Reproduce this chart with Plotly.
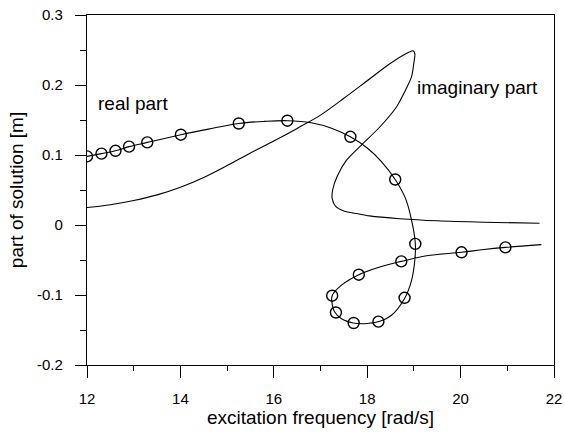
import plotly.graph_objects as go

# real part curve (analytical)
real_x = [12.0, 12.31, 12.61, 12.90, 13.29, 14.01, 14.6, 15.25, 15.8, 16.29, 16.8, 17.25,
          17.64, 18.0, 18.3, 18.6, 18.82, 18.95, 19.03, 19.02, 18.95, 18.80, 18.52, 18.25,
          17.95, 17.70, 17.45, 17.30, 17.25, 17.25, 17.45, 17.82, 18.27, 18.73, 19.27,
          20.02, 20.5, 20.96, 21.73]
real_y = [0.098, 0.102, 0.106, 0.112, 0.118, 0.129, 0.137, 0.145, 0.148, 0.149, 0.146, 0.138,
          0.126, 0.110, 0.091, 0.065, 0.038, 0.007, -0.026, -0.050, -0.079, -0.105, -0.129, -0.138,
          -0.141, -0.140, -0.134, -0.124, -0.113, -0.101, -0.086, -0.071, -0.060, -0.052, -0.044,
          -0.039, -0.035, -0.032, -0.028]

# real part markers (simulation points)
mark_x = [12.0, 12.31, 12.61, 12.90, 13.29, 14.01, 15.25, 16.29, 17.64, 18.60,
          19.03, 18.80, 18.24, 17.71, 17.33, 17.25, 17.82, 18.73, 20.02, 20.96]
mark_y = [0.098, 0.102, 0.106, 0.112, 0.118, 0.129, 0.145, 0.149, 0.126, 0.065,
          -0.027, -0.104, -0.138, -0.140, -0.125, -0.101, -0.071, -0.052, -0.039, -0.032]

# imaginary part curve
imag_x = [12.0, 12.5, 13.0, 13.5, 14.0, 14.5, 15.0, 15.5, 16.0, 16.5, 17.0, 17.5, 18.0,
          18.5, 18.9, 18.98, 19.02, 19.0, 18.95, 18.80, 18.63, 18.27, 17.84, 17.55, 17.36,
          17.26, 17.25, 17.32, 17.5, 17.8, 18.05, 18.7, 19.5, 20.5, 21.69]
imag_y = [0.025, 0.029, 0.035, 0.043, 0.054, 0.068, 0.085, 0.103, 0.120, 0.138, 0.157, 0.181,
          0.206, 0.231, 0.247, 0.249, 0.245, 0.232, 0.212, 0.190, 0.169, 0.140, 0.112, 0.092,
          0.070, 0.050, 0.038, 0.027, 0.020, 0.016, 0.013, 0.009, 0.006, 0.004, 0.0025]

x_ticks = [12, 14, 16, 18, 20, 22]
y_ticks = [-0.2, -0.1, 0, 0.1, 0.2, 0.3]
y_tick_text = ["-0.2", "-0.1", "0", "0.1", "0.2", "0.3"]

FONT = "Arial, Liberation Sans, sans-serif"

fig = go.Figure()
fig.add_trace(go.Scatter(x=real_x, y=real_y, mode="lines",
                         line=dict(color="black", width=1.1, shape="spline", smoothing=1.0),
                         showlegend=False, hoverinfo="skip"))
fig.add_trace(go.Scatter(x=imag_x, y=imag_y, mode="lines",
                         line=dict(color="black", width=1.1, shape="spline", smoothing=0.8),
                         showlegend=False, hoverinfo="skip"))
fig.add_trace(go.Scatter(x=mark_x, y=mark_y, mode="markers",
                         marker=dict(symbol="circle-open", size=11, color="black",
                                     line=dict(width=1.4, color="black")),
                         showlegend=False))

fig.add_annotation(x=12.2, y=0.173, text="real part", showarrow=False,
                   xanchor="left", yanchor="middle", font=dict(family=FONT, size=19, color="black"))
fig.add_annotation(x=19.03, y=0.196, text="imaginary part", showarrow=False,
                   xanchor="left", yanchor="middle", font=dict(family=FONT, size=19, color="black"))

fig.update_layout(
    width=564, height=432,
    margin=dict(l=87, r=10, t=15, b=67, autoexpand=False),
    paper_bgcolor="white", plot_bgcolor="white",
    font=dict(family=FONT, size=15, color="black"),
    xaxis=dict(range=[12, 22], tickvals=x_ticks, ticks="outside", ticklen=12, tickwidth=1.2,
               tickcolor="black", showline=True, linecolor="black", linewidth=1.2, mirror=True,
               showgrid=False, zeroline=False, automargin=False, ticklabelstandoff=8,
               minor=dict(dtick=1, tick0=12, ticks="outside", ticklen=5, tickcolor="black", tickwidth=1.2),
               title=dict(text="excitation frequency [rad/s]", font=dict(size=19), standoff=0),
               tickfont=dict(size=15)),
    yaxis=dict(range=[-0.2, 0.3], tickvals=y_ticks, ticktext=y_tick_text, ticks="outside",
               ticklen=11, tickwidth=1.2, tickcolor="black", showline=True, linecolor="black",
               linewidth=1.2, mirror=True, showgrid=False, zeroline=False, automargin=False,
               ticklabelstandoff=9,
               minor=dict(dtick=0.05, tick0=0, ticks="outside", ticklen=6, tickcolor="black", tickwidth=1.2),
               title=dict(text="part of solution [m]", font=dict(size=19), standoff=8),
               tickfont=dict(size=15)),
)

fig.write_html("out.html")
